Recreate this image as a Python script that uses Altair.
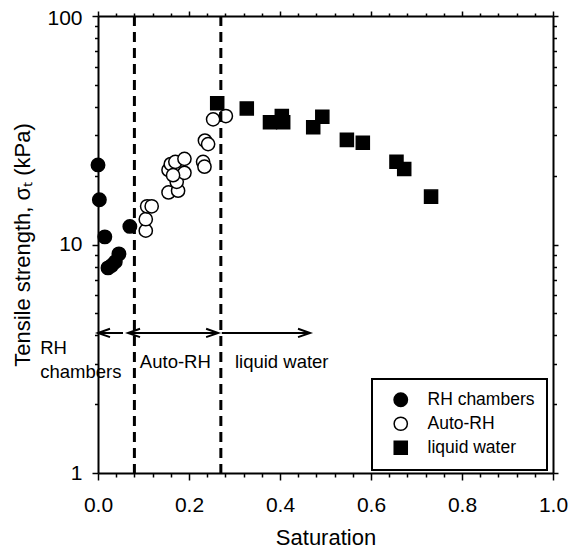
import altair as alt
import pandas as pd

# ---- data ----
series_names = ["RH chambers", "Auto-RH", "liquid water"]

rh_x = [0.0, 0.003, 0.015, 0.022, 0.030, 0.038, 0.046, 0.070]
rh_y = [22.3, 15.7, 10.8, 7.9, 8.1, 8.4, 9.1, 12.0]

auto_x = [0.105, 0.105, 0.108, 0.118, 0.155, 0.176, 0.173, 0.155, 0.160, 0.170,
          0.190, 0.190, 0.165, 0.231, 0.234, 0.235, 0.242, 0.253, 0.281]
auto_y = [11.5, 12.9, 14.7, 14.7, 16.9, 17.2, 18.8, 21.2, 22.5, 23.0,
          23.7, 20.6, 20.1, 23.0, 21.9, 28.5, 27.5, 35.3, 36.5]

water_x = [0.262, 0.327, 0.378, 0.404, 0.407, 0.473, 0.493, 0.547, 0.582, 0.656, 0.673, 0.732]
water_y = [41.5, 39.4, 34.3, 36.5, 34.3, 32.6, 36.2, 28.7, 27.9, 23.0, 21.4, 16.2]

boundaries = [0.08, 0.27]

arrow_y = 4.1
arrow_start = [0.0, 0.066, 0.272]
arrow_end = [0.055, 0.264, 0.466]
left_heads = [0.0, 0.066]
right_heads = [0.264, 0.466]

ann_text = ["RH", "chambers", "Auto-RH", "liquid water"]
ann_x = [-0.127, -0.127, 0.092, 0.301]
ann_y = [3.52, 2.77, 3.06, 3.06]

x_ticks = [0.0, 0.04, 0.08, 0.12, 0.16, 0.2, 0.24, 0.28, 0.32, 0.36, 0.4, 0.44, 0.48,
           0.52, 0.56, 0.6, 0.64, 0.68, 0.72, 0.76, 0.8, 0.84, 0.88, 0.92, 0.96, 1.0]
y_ticks = [1, 2, 3, 4, 5, 6, 7, 8, 9, 10, 20, 30, 40, 50, 60, 70, 80, 90, 100]

# ---- tables ----
pts = pd.concat([
    pd.DataFrame({"x": rh_x, "y": rh_y, "series": series_names[0]}),
    pd.DataFrame({"x": water_x, "y": water_y, "series": series_names[2]}),
    pd.DataFrame({"x": auto_x, "y": auto_y, "series": series_names[1]}),
], ignore_index=True)

arrows = pd.DataFrame({"x": arrow_start, "x2": arrow_end, "y": arrow_y})
lh = pd.DataFrame({"x": left_heads, "y": arrow_y})
rh = pd.DataFrame({"x": right_heads, "y": arrow_y})
ann = pd.DataFrame({"t": ann_text, "x": ann_x, "y": ann_y})
bnd = pd.DataFrame({"b": boundaries})

FONT = "Liberation Sans"
xscale = alt.Scale(domain=[0, 1], nice=False, zero=False)
yscale = alt.Scale(type="log", domain=[1, 100], nice=False)

x_major = "abs(datum.value*5 - round(datum.value*5)) < 0.001"
y_major = "datum.value == 1 || datum.value == 10 || datum.value == 100"

x_axis_bottom = alt.Axis(
    values=x_ticks, title="Saturation", orient="bottom",
    labelExpr=f"{x_major} ? format(datum.value, '.1f') : ''",
    tickSize=alt.condition(x_major, alt.value(7), alt.value(4)),
    labelPadding=14, titlePadding=12, labelFlush=False, labelOverlap=False, grid=False,
)
y_axis_left = alt.Axis(
    values=y_ticks, title="Tensile strength, σₜ (kPa)", orient="left",
    labelExpr=f"{y_major} ? format(datum.value, 'd') : ''",
    tickSize=alt.condition(y_major, alt.value(6), alt.value(3.5)),
    labelOffset=alt.condition("datum.value == 100", alt.value(2), alt.value(0)),
    labelPadding=10, titlePadding=12, labelOverlap=False, grid=False,
)
x_axis_top = alt.Axis(values=x_ticks, title=None, orient="top", labels=False,
                      tickSize=alt.condition(x_major, alt.value(5), alt.value(3)), grid=False)
y_axis_right = alt.Axis(values=y_ticks, title=None, orient="right", labels=False,
                        tickSize=alt.condition(y_major, alt.value(5), alt.value(3.5)), grid=False)

legend = alt.Legend(
    title=None, orient="none", legendX=274, legendY=363,
    strokeColor="black", padding=12, symbolOffset=8, labelOffset=18, rowPadding=4,
    labelFont=FONT, labelFontSize=17.5, labelColor="black",
    symbolStrokeWidth=1.5, symbolSize=225,
)

points = alt.Chart(pts).mark_point(filled=True, strokeWidth=1.5, opacity=1).encode(
    x=alt.X("x:Q", scale=xscale, axis=x_axis_bottom),
    y=alt.Y("y:Q", scale=yscale, axis=y_axis_left),
    shape=alt.Shape("series:N", scale=alt.Scale(domain=series_names, range=["circle", "circle", "square"]), legend=legend),
    fill=alt.Fill("series:N", scale=alt.Scale(domain=series_names, range=["black", "white", "black"]), legend=legend),
    stroke=alt.Stroke("series:N", scale=alt.Scale(domain=series_names, range=["black", "black", "black"]), legend=legend),
    size=alt.Size("series:N", scale=alt.Scale(domain=series_names, range=[180, 170, 210]), legend=legend),
)

rules = alt.Chart(bnd).mark_rule(color="black", strokeWidth=3, strokeDash=[10, 6]).encode(
    x=alt.X("b:Q", scale=xscale, axis=None),
)

arrow_lines = alt.Chart(arrows).mark_rule(color="black", strokeWidth=2).encode(
    x=alt.X("x:Q", scale=xscale, axis=x_axis_top),
    x2="x2:Q",
    y=alt.Y("y:Q", scale=yscale, axis=y_axis_right),
)

head_l = alt.Chart(lh).mark_point(shape="M1,-0.35L0,0L1,0.35", size=576, filled=False,
                                  stroke="black", strokeWidth=2, opacity=1).encode(
    x=alt.X("x:Q", scale=xscale, axis=None),
    y=alt.Y("y:Q", scale=yscale, axis=None),
)
head_r = alt.Chart(rh).mark_point(shape="M-1,-0.35L0,0L-1,0.35", size=576, filled=False,
                                  stroke="black", strokeWidth=2, opacity=1).encode(
    x=alt.X("x:Q", scale=xscale, axis=None),
    y=alt.Y("y:Q", scale=yscale, axis=None),
)

texts = alt.Chart(ann).mark_text(align="left", baseline="middle", font=FONT, fontSize=18.5, color="black").encode(
    x=alt.X("x:Q", scale=xscale, axis=None),
    y=alt.Y("y:Q", scale=yscale, axis=None),
    text="t:N",
)

chart = alt.layer(points, arrow_lines, rules, head_l, head_r, texts).resolve_axis(
    x="independent", y="independent"
).properties(
    width=455, height=457,
    autosize=alt.AutoSizeParams(type="none"),
    padding={"left": 90, "top": 8, "right": 19, "bottom": 78},
).configure_view(stroke=None).configure_axis(
    domainColor="black", domainWidth=2, tickColor="black", tickWidth=1.5,
    labelFont=FONT, labelFontSize=21, labelColor="black",
    titleFont=FONT, titleFontSize=22, titleFontWeight="normal", titleColor="black",
).configure_legend(strokeWidth=2)

chart.save("out.html", embed_options={"renderer": "svg", "actions": False})
